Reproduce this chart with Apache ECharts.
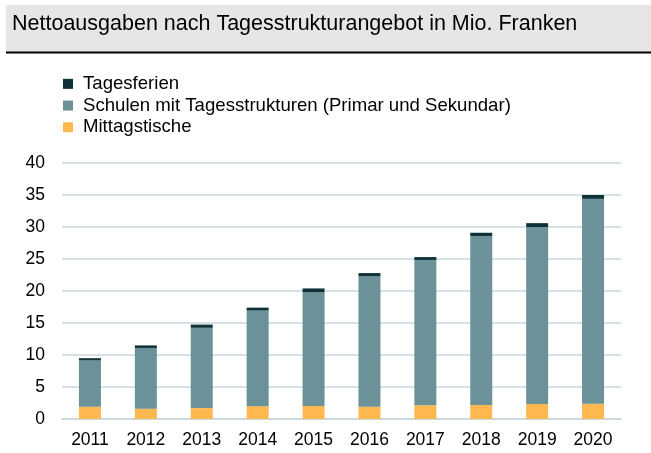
<!DOCTYPE html>
<html>
<head>
<meta charset="utf-8">
<script src="https://cdn.jsdelivr.net/npm/echarts@6/dist/echarts.min.js"></script>
<style>
  html, body { margin: 0; padding: 0; background: #ffffff; }
  #chart { width: 651px; height: 453px; }
</style>
</head>
<body>
<div id="chart"></div>
<script>
// Net spending by day-structure offering, million CHF
const years = ['2011', '2012', '2013', '2014', '2015', '2016', '2017', '2018', '2019', '2020'];
const mittagstische = [1.9, 1.6, 1.7, 2.0, 2.05, 1.9, 2.15, 2.2, 2.35, 2.4];
const schulen = [7.3, 9.5, 12.55, 14.95, 17.75, 20.4, 22.7, 26.4, 27.65, 32.0];
const tagesferien = [0.3, 0.4, 0.5, 0.45, 0.6, 0.5, 0.45, 0.5, 0.6, 0.6];
const yTicks = [0, 5, 10, 15, 20, 25, 30, 35, 40];

const titleText = 'Nettoausgaben nach Tagesstrukturangebot in Mio. Franken';
const nameTagesferien = 'Tagesferien';
const nameSchulen = 'Schulen mit Tagesstrukturen (Primar und Sekundar)';
const nameMittag = 'Mittagstische';

const font = 'Arial, "Liberation Sans", sans-serif';
const chart = echarts.init(document.getElementById('chart'), null, { renderer: 'canvas' });

chart.setOption({
  animation: false,
  backgroundColor: '#ffffff',
  graphic: [
    { type: 'rect', shape: { x: 6, y: 5, width: 645, height: 47 }, style: { fill: '#e6e6e6' }, silent: true },
    { type: 'rect', shape: { x: 6, y: 51.5, width: 645, height: 2 }, style: { fill: '#000000' }, silent: true },
    { type: 'text', left: 12, top: 13, style: { text: titleText, font: '21.5px ' + font, fill: '#000000' } }
  ],
  legend: {
    orient: 'vertical',
    left: 58,
    top: 73,
    padding: [0, 5],
    itemWidth: 10,
    itemHeight: 10,
    itemGap: 0,
    icon: 'rect',
    data: [nameTagesferien, nameSchulen, nameMittag],
    textStyle: { fontFamily: font, fontSize: 18.6, color: '#000000', padding: [0, 0, 0, 5], lineHeight: 21.7 }
  },
  grid: { left: 62, right: 30, top: 163, bottom: 34, containLabel: false },
  xAxis: {
    type: 'category',
    data: years,
    axisLine: { show: true, lineStyle: { color: '#c9d7de', width: 1.5 } },
    axisTick: { show: false },
    axisLabel: { fontFamily: font, fontSize: 17.5, color: '#000000', margin: 12 }
  },
  yAxis: {
    type: 'value',
    min: yTicks[0],
    max: yTicks[yTicks.length - 1],
    interval: yTicks[1] - yTicks[0],
    axisLine: { show: false },
    axisTick: { show: false },
    axisLabel: { fontFamily: font, fontSize: 17.5, color: '#000000', margin: 17 },
    splitLine: { lineStyle: { color: '#c9d7de', width: 1.5 } }
  },
  series: [
    { name: nameMittag, type: 'bar', stack: 'total', barWidth: 22, data: mittagstische, itemStyle: { color: '#ffb84f' } },
    { name: nameSchulen, type: 'bar', stack: 'total', barWidth: 22, data: schulen, itemStyle: { color: '#6b9298' } },
    { name: nameTagesferien, type: 'bar', stack: 'total', barWidth: 22, data: tagesferien, itemStyle: { color: '#0e3238' } }
  ]
});
</script>
</body>
</html>
